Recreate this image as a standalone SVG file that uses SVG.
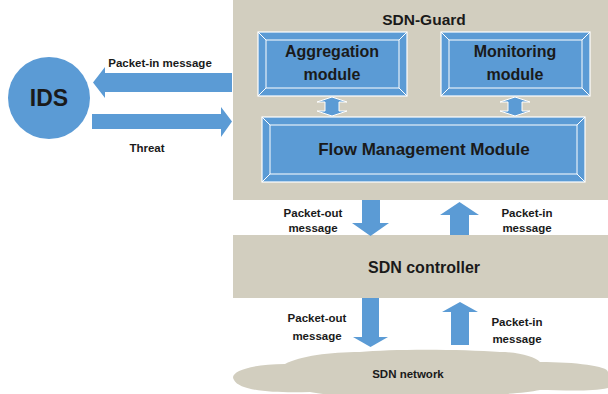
<svg xmlns="http://www.w3.org/2000/svg" width="608" height="394" viewBox="0 0 608 394">
<style>
text{font-family:"Liberation Sans","DejaVu Sans",sans-serif;font-weight:bold;fill:#1a1a1a;text-anchor:middle}
.panel{fill:#D2CEBF}
.blue{fill:#5B9BD5}
.bev{fill:#5B9BD5;stroke:#fff;stroke-width:1.2}
.bl{stroke:#fff;stroke-width:1;fill:none}
.dbl{fill:#5B9BD5;stroke:#fff;stroke-width:1}
.lbl{font-size:11.5px}
.mod{font-size:16px}
</style>
<rect width="608" height="394" fill="#fff"/>
<g id="sdn-guard">
<rect class="panel" x="233" y="0" width="375" height="200"/>
<text x="424" y="25" style="font-size:15.5px">SDN-Guard</text>
</g>
<g id="aggregation">
<rect class="bev" x="258" y="32" width="149" height="64"/>
<path class="bl" d="M266 40H399V88H266Z M258 32L266 40 M407 32L399 40 M258 96L266 88 M407 96L399 88"/>
<text class="mod" x="332" y="57">Aggregation</text>
<text class="mod" x="332" y="80">module</text>
</g>
<g id="monitoring">
<rect class="bev" x="441" y="32" width="149" height="64"/>
<path class="bl" d="M449 40H582V88H449Z M441 32L449 40 M590 32L582 40 M441 96L449 88 M590 96L582 88"/>
<text class="mod" x="515" y="57">Monitoring</text>
<text class="mod" x="515" y="80">module</text>
</g>
<g id="flow-management">
<rect class="bev" x="262" y="117" width="323" height="65"/>
<path class="bl" d="M270 125H577V174H270Z M262 117L270 125 M585 117L577 125 M262 182L270 174 M585 182L577 174"/>
<text x="424" y="155" style="font-size:17px">Flow Management Module</text>
</g>
<g id="ids">
<circle class="blue" cx="49" cy="98" r="41"/>
<text x="49" y="106" style="font-size:23px">IDS</text>
</g>
<g id="sdn-controller">
<rect class="panel" x="233" y="235" width="375" height="63"/>
<text x="424" y="273" style="font-size:16px">SDN controller</text>
</g>
<g id="sdn-network">
<path class="panel" d="M234 380C228 372 250 364 285 364C300 356 330 352 360 352C390 349 460 349 500 352C520 352 535 357 540 362C575 362 608 366 608 372V388C590 392 560 390 540 390C510 396 440 397 410 395C370 398 330 396 310 392C280 393 240 392 234 380Z"/>
<text x="408" y="378" style="font-size:11.5px">SDN network</text>
</g>
<g id="connectors">
<path class="dbl" d="M317 102L332 97L347 102H339V111H347L332 116L317 111H325V102Z"/>
<path class="dbl" d="M500 102L515 97L530 102H522V111H530L515 116L500 111H508V102Z"/>
<path class="blue" d="M232 73H105V67L93 82.5L105 98V92H232Z"/>
<path class="blue" d="M92 114H221V107L232 121.5L221 137V129H92Z"/>
<path class="blue" d="M362 200H380V223H389L370.5 236L352 223H362Z"/>
<path class="blue" d="M450 235V215H440L459.5 202L479 215H469V235Z"/>
<path class="blue" d="M362 298H379V337H388L370.5 347L353 337H362Z"/>
<path class="blue" d="M451 345V312H442L460 302L478 312H469V345Z"/>
</g>
<g id="labels">
<text class="lbl" x="160" y="67">Packet-in message</text>
<text class="lbl" x="147" y="152">Threat</text>
<text class="lbl" x="313" y="217">Packet-out</text>
<text class="lbl" x="313" y="232">message</text>
<text class="lbl" x="527" y="217">Packet-in</text>
<text class="lbl" x="527" y="232">message</text>
<text class="lbl" x="317" y="322">Packet-out</text>
<text class="lbl" x="317" y="340">message</text>
<text class="lbl" x="517" y="326">Packet-in</text>
<text class="lbl" x="517" y="343">message</text>
</g>
</svg>
